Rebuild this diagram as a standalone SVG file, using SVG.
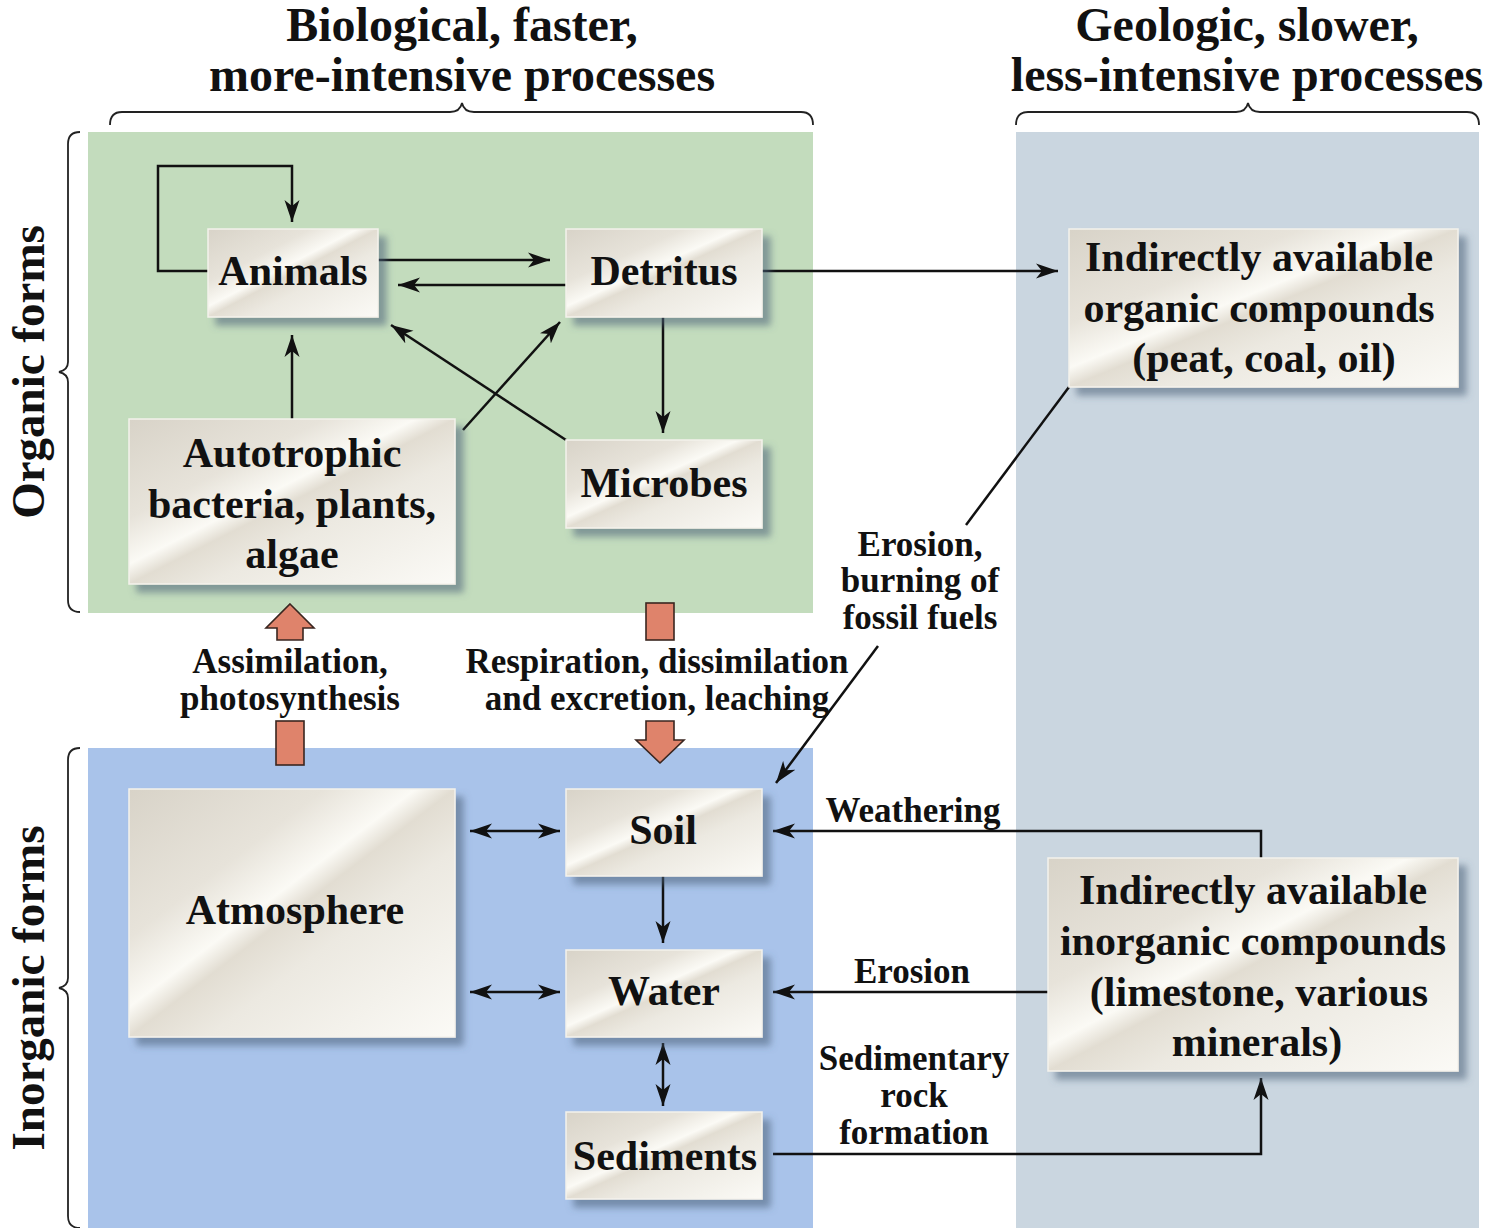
<svg xmlns="http://www.w3.org/2000/svg" width="1491" height="1228" viewBox="0 0 1491 1228">
<style>
.hdr{font-family:"Liberation Serif","Times New Roman",serif;font-weight:bold;font-size:48px;fill:#111;text-anchor:middle}
.side{font-family:"Liberation Serif","Times New Roman",serif;font-weight:bold;font-size:47px;fill:#111;text-anchor:middle}
.nt{font-family:"Liberation Serif","Times New Roman",serif;font-weight:bold;font-size:42px;fill:#111;text-anchor:middle}
.lb{font-family:"Liberation Serif","Times New Roman",serif;font-weight:bold;font-size:35px;fill:#111;text-anchor:middle}
.box{fill:url(#sheen);stroke:#f4f2ec;stroke-width:1.5;filter:url(#shadow)}
.ln{fill:none;stroke:#111;stroke-width:2.5}
.arr{marker-end:url(#ah)}
.dbl{marker-start:url(#ah);marker-end:url(#ah)}
.brace{fill:none;stroke:#222;stroke-width:1.8}
.big{fill:#df836b;stroke:#3a2620;stroke-width:1.6}
</style>
<defs>
<linearGradient id="sheen" x1="0" y1="0" x2="1" y2="1">
<stop offset="0" stop-color="#d8d3c8"/>
<stop offset="0.3" stop-color="#e7e3da"/>
<stop offset="0.44" stop-color="#fbfaf5"/>
<stop offset="0.5" stop-color="#e2ddd2"/>
<stop offset="0.62" stop-color="#ece9e1"/>
<stop offset="1" stop-color="#fbfaf6"/>
</linearGradient>
<filter id="shadow" x="-10%" y="-10%" width="130%" height="140%">
<feGaussianBlur in="SourceAlpha" stdDeviation="3.5"/>
<feOffset dx="8" dy="8" result="b"/>
<feFlood flood-color="#4a6078" flood-opacity="0.55"/>
<feComposite in2="b" operator="in"/>
<feMerge><feMergeNode/><feMergeNode in="SourceGraphic"/></feMerge>
</filter>
<marker id="ah" markerUnits="userSpaceOnUse" markerWidth="24" markerHeight="16" refX="22" refY="7.5" orient="auto-start-reverse" viewBox="0 0 24 15">
<path d="M0,0 L22,7.5 L0,15 L6,7.5 Z" fill="#111"/>
</marker>
</defs>

<rect width="1491" height="1228" fill="#ffffff"/>

<g id="panels">
<rect x="88" y="132" width="725" height="481" fill="#c3dcbd"/>
<rect x="88" y="748" width="725" height="480" fill="#a9c3ea"/>
<rect x="1016" y="132" width="463" height="1096" fill="#cad6e0"/>
</g>

<g id="headers">
<text class="hdr" x="462" y="41">Biological, faster,</text>
<text class="hdr" x="462" y="91">more-intensive processes</text>
<text class="hdr" x="1247" y="41">Geologic, slower,</text>
<text class="hdr" x="1247" y="91">less-intensive processes</text>
<path class="brace" d="M110,125 Q110,112 122,112 H450 Q460,112 462,103 Q464,112 474,112 H801 Q813,112 813,125"/>
<path class="brace" d="M1016,125 Q1016,112 1028,112 H1236 Q1246,112 1248,103 Q1250,112 1260,112 H1467 Q1479,112 1479,125"/>
<path class="brace" d="M80,132 Q68,132 68,144 V362 Q68,370 59,372 Q68,374 68,382 V600 Q68,612 80,612"/>
<path class="brace" d="M80,748 Q68,748 68,760 V978 Q68,986 59,988 Q68,990 68,998 V1216 Q68,1228 80,1228"/>
<text class="side" transform="translate(44,372) rotate(-90)">Organic forms</text>
<text class="side" transform="translate(44,988) rotate(-90)">Inorganic forms</text>
</g>

<g id="connectors">
<path class="ln arr" d="M208,271 H158 V166 H292 V222"/>
<path class="ln arr" d="M378,260 H550"/>
<path class="ln arr" d="M566,285 H398"/>
<path class="ln arr" d="M762,271 H1058"/>
<path class="ln arr" d="M292,419 V335"/>
<path class="ln arr" d="M463,430 L560,322"/>
<path class="ln arr" d="M566,440 L391,325"/>
<path class="ln arr" d="M663,317 V433"/>
<path class="ln" d="M1069,387 L966,525"/>
<path class="ln arr" d="M878,646 L776,783"/>
<path class="ln dbl" d="M470,831 H560"/>
<path class="ln dbl" d="M470,992 H560"/>
<path class="ln arr" d="M663,876 V943"/>
<path class="ln dbl" d="M663,1043 V1106"/>
<path class="ln arr" d="M1261,858 V831 H773"/>
<path class="ln arr" d="M1048,992 H773"/>
<path class="ln arr" d="M773,1154 H1261 V1078"/>
<path class="big" d="M290,604 L314,628 H303 V640 H277 V628 H266 Z"/>
<rect class="big" x="276" y="721" width="28" height="44"/>
<rect class="big" x="646" y="603" width="28" height="37"/>
<path class="big" d="M646,721 H674 V740 H684 L660,763 L636,740 H646 Z"/>
</g>

<g id="labels">
<text class="lb" x="290" y="673">Assimilation,</text>
<text class="lb" x="290" y="710">photosynthesis</text>
<text class="lb" x="657" y="673">Respiration, dissimilation</text>
<text class="lb" x="657" y="710">and excretion, leaching</text>
<text class="lb" x="920" y="556">Erosion,</text>
<text class="lb" x="920" y="592">burning of</text>
<text class="lb" x="920" y="629">fossil fuels</text>
<text class="lb" x="913" y="822">Weathering</text>
<text class="lb" x="912" y="983">Erosion</text>
<text class="lb" x="914" y="1070">Sedimentary</text>
<text class="lb" x="914" y="1107">rock</text>
<text class="lb" x="914" y="1144">formation</text>
</g>

<g id="node-animals"><rect class="box" x="208" y="229" width="170" height="88"/><text class="nt" x="293" y="285">Animals</text></g>
<g id="node-detritus"><rect class="box" x="566" y="229" width="196" height="88"/><text class="nt" x="664" y="285">Detritus</text></g>
<g id="node-autotrophic"><rect class="box" x="129" y="419" width="326" height="165"/><text class="nt" x="292" y="467">Autotrophic</text><text class="nt" x="292" y="518">bacteria, plants,</text><text class="nt" x="292" y="568">algae</text></g>
<g id="node-microbes"><rect class="box" x="566" y="440" width="196" height="88"/><text class="nt" x="664" y="497">Microbes</text></g>
<g id="node-organic-compounds"><rect class="box" x="1069" y="229" width="389" height="158"/><text class="nt" x="1259" y="271">Indirectly available</text><text class="nt" x="1259" y="322">organic compounds</text><text class="nt" x="1264" y="372">(peat, coal, oil)</text></g>
<g id="node-atmosphere"><rect class="box" x="129" y="789" width="326" height="248"/><text class="nt" x="295" y="924">Atmosphere</text></g>
<g id="node-soil"><rect class="box" x="566" y="789" width="196" height="87"/><text class="nt" x="663" y="844">Soil</text></g>
<g id="node-water"><rect class="box" x="566" y="950" width="196" height="87"/><text class="nt" x="664" y="1005">Water</text></g>
<g id="node-sediments"><rect class="box" x="566" y="1112" width="196" height="87"/><text class="nt" x="665" y="1170">Sediments</text></g>
<g id="node-inorganic-compounds"><rect class="box" x="1048" y="858" width="410" height="213"/><text class="nt" x="1253" y="904">Indirectly available</text><text class="nt" x="1253" y="955">inorganic compounds</text><text class="nt" x="1259" y="1006">(limestone, various</text><text class="nt" x="1257" y="1056">minerals)</text></g>
</svg>
